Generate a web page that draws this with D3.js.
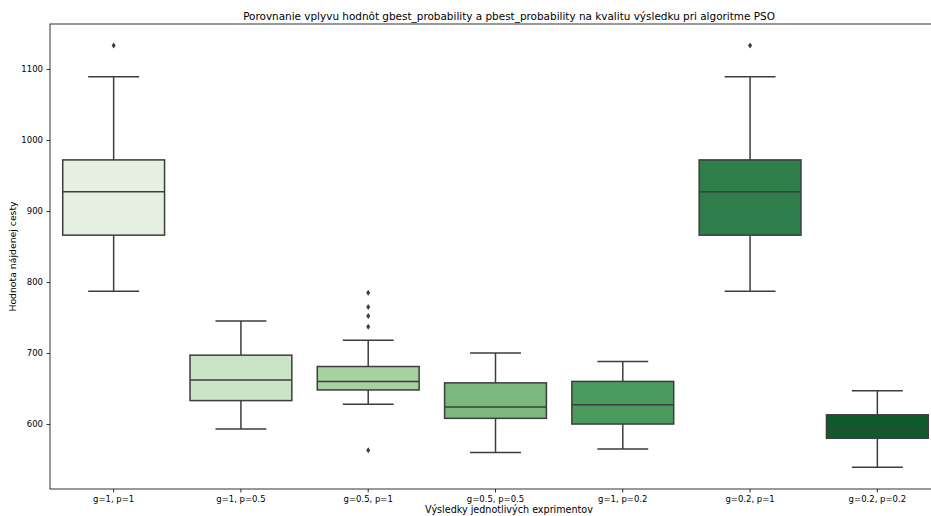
<!DOCTYPE html>
<html>
<head>
<meta charset="utf-8">
<script src="https://cdn.jsdelivr.net/npm/d3@7"></script>
<style>
	body { margin: 0; background: #fff; }
	svg { display: block; font-family: "DejaVu Sans", sans-serif; }
</style>
</head>
<body>
<div id="chart"></div>
<script>
// experiment categories
var categories = ["g=1, p=1", "g=1, p=0.5", "g=0.5, p=1", "g=0.5, p=0.5", "g=1, p=0.2", "g=0.2, p=1", "g=0.2, p=0.2"];

// box statistics
var whiskerLow  = [787, 593, 628, 560, 565, 787, 539];
var q1          = [866, 633, 648, 608, 600, 866, 580];
var median      = [927, 662, 660, 624, 627, 927, 593];
var q3          = [972, 697, 681, 658, 660, 972, 613];
var whiskerHigh = [1089, 745, 718, 700, 688, 1089, 647];
var outliers    = [[1133], [], [563, 737, 752, 765, 785], [], [], [1133], []];

var yTicks = [600, 700, 800, 900, 1000, 1100];
var colors = ["#e5f0e3", "#cae4c5", "#a6d29f", "#7bb87c", "#4b9b61", "#2e7d4b", "#0d5a2d"];

var W = 931, H = 516;
var margin = {top: 24, left: 50, bottom: 27, right: -10};

var svg = d3.select("#chart").append("svg")
	.attr("width", W)
	.attr("height", H);

var x = d3.scaleBand()
	.domain(categories)
	.range([margin.left, W - margin.right])
	.paddingInner(0)
	.paddingOuter(0);

var y = d3.scaleLinear()
	.domain([508.5, 1163.4])
	.range([H - margin.bottom, margin.top]);

var lineCol = "#3d3d3d";
var boxW = x.bandwidth() * 0.8;

var boxes = svg.append("g");
categories.forEach(function(c, i) {
	var cx = x(c) + x.bandwidth() / 2;
	var g = boxes.append("g");
	// whiskers
	g.append("line")
		.attr("x1", cx).attr("x2", cx)
		.attr("y1", y(q3[i])).attr("y2", y(whiskerHigh[i]))
		.style("stroke", lineCol).style("stroke-width", 1.5);
	g.append("line")
		.attr("x1", cx).attr("x2", cx)
		.attr("y1", y(q1[i])).attr("y2", y(whiskerLow[i]))
		.style("stroke", lineCol).style("stroke-width", 1.5);
	// caps
	[whiskerHigh[i], whiskerLow[i]].forEach(function(v) {
		g.append("line")
			.attr("x1", cx - boxW / 4).attr("x2", cx + boxW / 4)
			.attr("y1", y(v)).attr("y2", y(v))
			.style("stroke", lineCol).style("stroke-width", 1.5);
	});
	// box
	g.append("rect")
		.attr("x", cx - boxW / 2)
		.attr("y", y(q3[i]))
		.attr("width", boxW)
		.attr("height", y(q1[i]) - y(q3[i]))
		.style("fill", colors[i])
		.style("stroke", lineCol)
		.style("stroke-width", 1.5);
	// median
	g.append("line")
		.attr("x1", cx - boxW / 2).attr("x2", cx + boxW / 2)
		.attr("y1", y(median[i])).attr("y2", y(median[i]))
		.style("stroke", lineCol).style("stroke-width", 1.5);
	// fliers
	outliers[i].forEach(function(v) {
		var py = y(v);
		g.append("path")
			.attr("d", "M" + cx + "," + (py - 3) + "L" + (cx + 2) + "," + py + "L" + cx + "," + (py + 3) + "L" + (cx - 2) + "," + py + "Z")
			.style("fill", lineCol);
	});
});

// axes
var xAxis = svg.append("g")
	.attr("transform", "translate(0," + (H - margin.bottom) + ")")
	.call(d3.axisBottom(x).tickSize(3.5).tickPadding(3.5));
var yAxis = svg.append("g")
	.attr("transform", "translate(" + margin.left + ",0)")
	.call(d3.axisLeft(y).tickValues(yTicks).tickFormat(d3.format("d")).tickSize(3.5).tickPadding(3.5));

[xAxis, yAxis].forEach(function(a) {
	a.selectAll("text").attr("font-size", "8.5px").attr("font-family", "DejaVu Sans").style("fill", "#000");
	a.selectAll("line").style("stroke", "#000").style("stroke-width", 0.8);
	a.select(".domain").remove();
});

// frame
svg.append("rect")
	.attr("x", margin.left)
	.attr("y", margin.top)
	.attr("width", W - margin.right - margin.left)
	.attr("height", H - margin.bottom - margin.top)
	.style("fill", "none")
	.style("stroke", "#000")
	.style("stroke-width", 0.8);

svg.append("text")
	.attr("x", 509)
	.attr("y", 20)
	.attr("text-anchor", "middle")
	.attr("font-size", "10.45px")
	.text("Porovnanie vplyvu hodnôt gbest_probability a pbest_probability na kvalitu výsledku pri algoritme PSO");

svg.append("text")
	.attr("x", 509)
	.attr("y", 513)
	.attr("text-anchor", "middle")
	.attr("font-size", "9.6px")
	.text("Výsledky jednotlivých exprimentov");

svg.append("text")
	.attr("transform", "translate(16," + ((margin.top + H - margin.bottom) / 2) + ") rotate(-90)")
	.attr("text-anchor", "middle")
	.attr("font-size", "9.3px")
	.text("Hodnota nájdenej cesty");
</script>
</body>
</html>
